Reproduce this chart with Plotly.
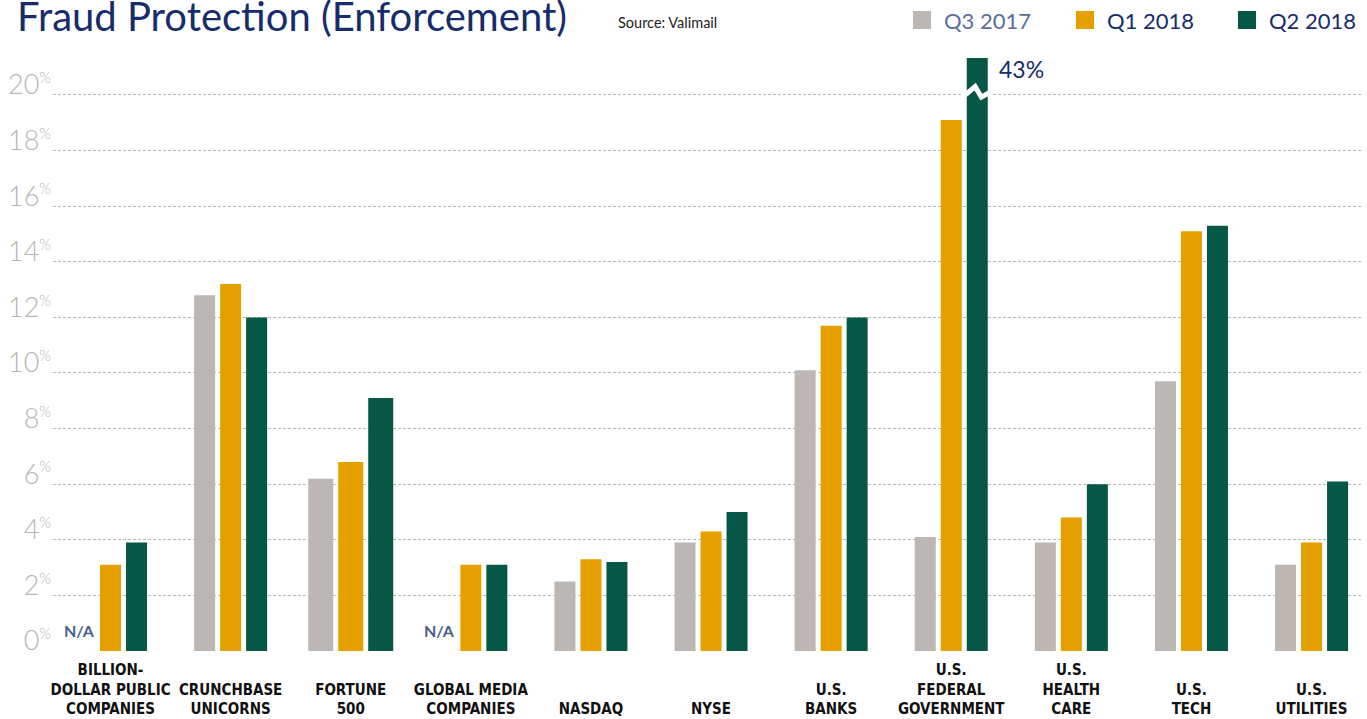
import plotly.graph_objects as go

# ---- data -------------------------------------------------------------
categories = [
    "BILLION-<br>DOLLAR PUBLIC<br>COMPANIES",
    "CRUNCHBASE<br>UNICORNS",
    "FORTUNE<br>500",
    "GLOBAL MEDIA<br>COMPANIES",
    "NASDAQ",
    "NYSE",
    "U.S.<br>BANKS",
    "U.S.<br>FEDERAL<br>GOVERNMENT",
    "U.S.<br>HEALTH<br>CARE",
    "U.S.<br>TECH",
    "U.S.<br>UTILITIES",
]
series_names = ["Q3 2017", "Q1 2018", "Q2 2018"]
q3_2017 = [None, 12.8, 6.2, None, 2.5, 3.9, 10.1, 4.1, 3.9, 9.7, 3.1]
q1_2018 = [3.1, 13.2, 6.8, 3.1, 3.3, 4.3, 11.7, 19.1, 4.8, 15.1, 3.9]
q2_2018 = [3.9, 12.0, 9.1, 3.1, 3.2, 5.0, 12.0, 43.0, 6.0, 15.3, 6.1]
y_ticks = [0, 2, 4, 6, 8, 10, 12, 14, 16, 18, 20]

# ---- styling ------------------------------------------------------------
COLORS = ["#bcb7b3", "#e5a000", "#065745"]
NAVY = "#172c6c"
W, H = 1367, 719
M_L, M_R, M_T, M_B = 53, 5, 58, 68
Y_MAX = 21.33
X_RANGE = [-0.479, 10.42]
UNIT = (W - M_L - M_R) / (X_RANGE[1] - X_RANGE[0])  # px per category

# bottom-align the multi-line category labels
n_lines = max(c.count("<br>") + 1 for c in categories)
tick_text = ["\u00a0<br>" * (n_lines - c.count("<br>") - 1) + c for c in categories]

# bar geometry (Fortune 500 group is drawn a little wider)
bar_w = [21 / UNIT] * len(categories)
pitch = [26 / UNIT] * len(categories)
bar_w[2] = 25 / UNIT
pitch[2] = 30 / UNIT

fig = go.Figure()
for k, (name, vals) in enumerate(zip(series_names, [q3_2017, q1_2018, q2_2018])):
    fig.add_bar(
        name=name,
        x=categories,
        y=vals,
        width=bar_w,
        offset=[(k - 1) * p - w / 2 for p, w in zip(pitch, bar_w)],
        marker=dict(color=COLORS[k], line=dict(width=0)),
        showlegend=False,
        hoverinfo="skip",
    )


def px_x(px):
    return (px - M_L) / (W - M_L - M_R)


def px_y(py):
    return (H - M_B - py) / (H - M_T - M_B)


annotations = []
shapes = []

# title and source
annotations.append(dict(
    text="Fraud Protection (Enforcement)", xref="paper", yref="paper",
    x=px_x(15), y=px_y(16), xanchor="left", yanchor="middle", showarrow=False,
    font=dict(family="Lato", size=40, color=NAVY),
))
annotations.append(dict(
    text="Source: Valimail", xref="paper", yref="paper",
    x=px_x(616), y=px_y(23), xanchor="left", yanchor="middle", showarrow=False,
    font=dict(family="Lato", size=14.5, color="#222222"),
))

# legend
legend_x = [913, 1076, 1238]
legend_text_colors = ["#5a6e9e", NAVY, NAVY]
for k, name in enumerate(series_names):
    shapes.append(dict(
        type="rect", xref="paper", yref="paper",
        x0=px_x(legend_x[k]), x1=px_x(legend_x[k] + 18),
        y0=px_y(29), y1=px_y(11),
        fillcolor=COLORS[k], line=dict(width=0), layer="above",
    ))
    annotations.append(dict(
        text=name, xref="paper", yref="paper",
        x=px_x(legend_x[k] + 29), y=px_y(20), xanchor="left", yanchor="middle",
        showarrow=False, font=dict(family="Lato", size=22, color=legend_text_colors[k]),
    ))

# N/A markers for missing Q3 2017 values
for i, v in enumerate(q3_2017):
    if v is None:
        annotations.append(dict(
            text="<b>N/A</b>", x=i - pitch[i], y=0, xref="x", yref="y",
            xanchor="center", yanchor="bottom", yshift=9, xshift=-5, showarrow=False,
            font=dict(family="Lato", size=16, color="#4a5e8c", weight="bold"),
        ))

# broken bar: value label and a white zig-zag cut through the bar
big = max(range(len(q2_2018)), key=lambda i: q2_2018[i])
cx = big + pitch[big]
bw = bar_w[big]
annotations.append(dict(
    text=f"{q2_2018[big]:.0f}%", x=cx + bw / 2, y=Y_MAX, xref="x", yref="y",
    xanchor="left", yanchor="top", xshift=9, yshift=5, showarrow=False,
    font=dict(family="Lato", size=23, color=NAVY),
))
zx = [cx - 0.65 * bw, cx - 0.1 * bw, cx + 0.2 * bw, cx + 0.65 * bw]
zy = [19.95, 20.3, 19.92, 20.12]
shapes.append(dict(
    type="path", xref="x", yref="y", layer="above",
    path="M " + " L ".join(f"{a},{b}" for a, b in zip(zx, zy)),
    line=dict(color="white", width=5),
))

fig.update_layout(
    template="none",
    width=W, height=H, autosize=False,
    margin=dict(l=M_L, r=M_R, t=M_T, b=M_B, pad=0),
    paper_bgcolor="white", plot_bgcolor="white",
    barmode="overlay",
    showlegend=False,
    annotations=annotations,
    shapes=shapes,
    xaxis=dict(
        type="category", range=X_RANGE, showgrid=False, zeroline=False,
        showline=False, ticks="", tickvals=categories, ticktext=tick_text,
        tickangle=0, automargin=False,
        tickfont=dict(family="DejaVu Sans Condensed, Liberation Sans Narrow, sans-serif",
                      size=15, color="#111111", weight="bold"),
        ticklabelstandoff=8,
    ),
    yaxis=dict(
        range=[0, Y_MAX], tickvals=y_ticks, automargin=False,
        ticktext=[f"{t}<sup><span style='font-size:15px'>%</span></sup>" for t in y_ticks],
        showgrid=True, gridcolor="#b9b9b9", gridwidth=1, griddash="3px,2px",
        zeroline=False, showline=False, ticks="",
        tickfont=dict(family="Lato", size=27, color="#bab5b0", weight=300),
        ticklabelstandoff=1, ticklabelshift=-10,
    ),
)

fig.write_html("out.html")
